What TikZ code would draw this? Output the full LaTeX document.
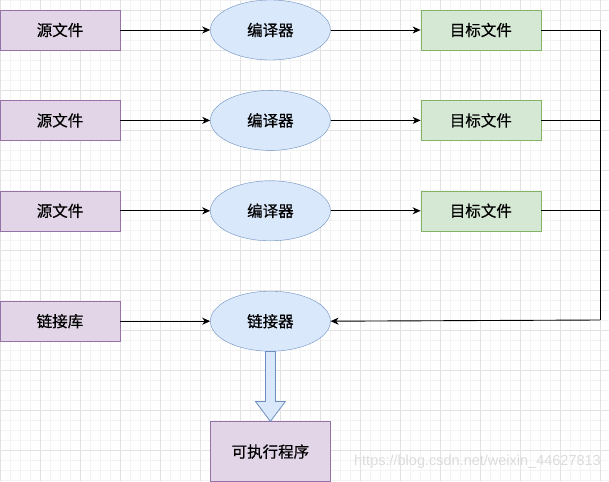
\documentclass[tikz,border=0pt]{standalone}
\usepackage{fontspec}
\newfontfamily\cjk[FakeBold=0.5]{Noto Sans CJK SC}
\newfontfamily\wmfont{Liberation Sans}
\usepackage{xcolor}
\definecolor{srcfill}{HTML}{E1D5E7}
\definecolor{srcline}{HTML}{9673A6}
\definecolor{cmpfill}{HTML}{DAE8FC}
\definecolor{cmpline}{HTML}{6C8EBF}
\definecolor{objfill}{HTML}{D5E8D4}
\definecolor{objline}{HTML}{82B366}
\definecolor{gridminor}{HTML}{F3F3F3}
\definecolor{gridmajor}{HTML}{E2E2E2}
\usepackage{tikz}
\usetikzlibrary{arrows.meta,positioning,shapes.geometric,calc}
\tikzset{
  srcbox/.style={draw=srcline,fill=srcfill,minimum width=120pt,minimum height=40pt,%
    inner sep=0pt,font=\cjk\fontsize{15.5}{18}\selectfont},
  objbox/.style={draw=objline,fill=objfill,minimum width=120pt,minimum height=40pt,%
    inner sep=0pt,font=\cjk\fontsize{15.5}{18}\selectfont},
  tool/.style={ellipse,draw=cmpline,fill=cmpfill,minimum width=120pt,minimum height=60pt,%
    inner sep=0pt,font=\cjk\fontsize{15.5}{18}\selectfont},
  flow/.style={-{Stealth[length=8pt,width=7pt,inset=2.5pt]},line width=0.9pt,draw=black},
  link/.style={line width=0.9pt,draw=black},
  fatarrow/.style={draw=cmpline,fill=cmpfill,line width=0.8pt,line join=miter},
}
\begin{document}
\begin{tikzpicture}[x=1pt,y=-1pt,node distance=50pt and 90pt]
\useasboundingbox (0,0) rectangle (609,481);
% grid
\foreach \gx in {0,10,...,600} \draw[gridminor,line width=0.6pt] (\gx,0) -- (\gx,481);
\foreach \gy in {0,10,...,480} \draw[gridminor,line width=0.6pt] (0,\gy) -- (609,\gy);
\foreach \gx in {0,40,...,600} \draw[gridmajor,line width=0.8pt] (\gx,0) -- (\gx,481);
\foreach \gy in {10,50,...,480} \draw[gridmajor,line width=0.8pt] (0,\gy) -- (609,\gy);

\node[srcbox] (src1) at (60,30) {源文件};
\node[tool,right=of src1]  (cmp1) {编译器};
\node[objbox,right=of cmp1] (obj1) {目标文件};
\node[srcbox,below=of src1] (src2) {源文件};
\node[tool,right=of src2]  (cmp2) {编译器};
\node[objbox,right=of cmp2] (obj2) {目标文件};
\node[srcbox,below=of src2] (src3) {源文件};
\node[tool,right=of src3]  (cmp3) {编译器};
\node[objbox,right=of cmp3] (obj3) {目标文件};
\node[srcbox,below=70pt of src3] (lib) {链接库};
\node[tool,right=of lib]   (lnk) {链接器};
\node[srcbox,minimum height=60pt,below=70pt of lnk] (exe) {可执行程序};
\coordinate (corner) at (600,320);

\draw[flow] (src1) -- (cmp1);
\draw[flow] (cmp1) -- (obj1);
\draw[flow] (src2) -- (cmp2);
\draw[flow] (cmp2) -- (obj2);
\draw[flow] (src3) -- (cmp3);
\draw[flow] (cmp3) -- (obj3);
\draw[flow] (lib) -- (lnk);
\draw[link] (obj1.east) -| (corner);
\draw[link] (obj2.east) -- (obj2.east -| corner);
\draw[link] (obj3.east) -- (obj3.east -| corner);
\draw[flow] (corner) -- (lnk.east);
\draw[fatarrow] ([xshift=-5pt]lnk.south) -- ([xshift=-5pt,yshift=20pt]exe.north)
  -- ([xshift=-15pt,yshift=20pt]exe.north) -- (exe.north)
  -- ([xshift=15pt,yshift=20pt]exe.north) -- ([xshift=5pt,yshift=20pt]exe.north)
  -- ([xshift=5pt]lnk.south) -- cycle;

\node[anchor=east,text=gray!28,font=\wmfont\fontsize{14.5}{16}\selectfont,inner sep=0pt]
  (mark) at (601,462) {https://blog.csdn.net/weixin\_44627813};
\end{tikzpicture}
\end{document}
